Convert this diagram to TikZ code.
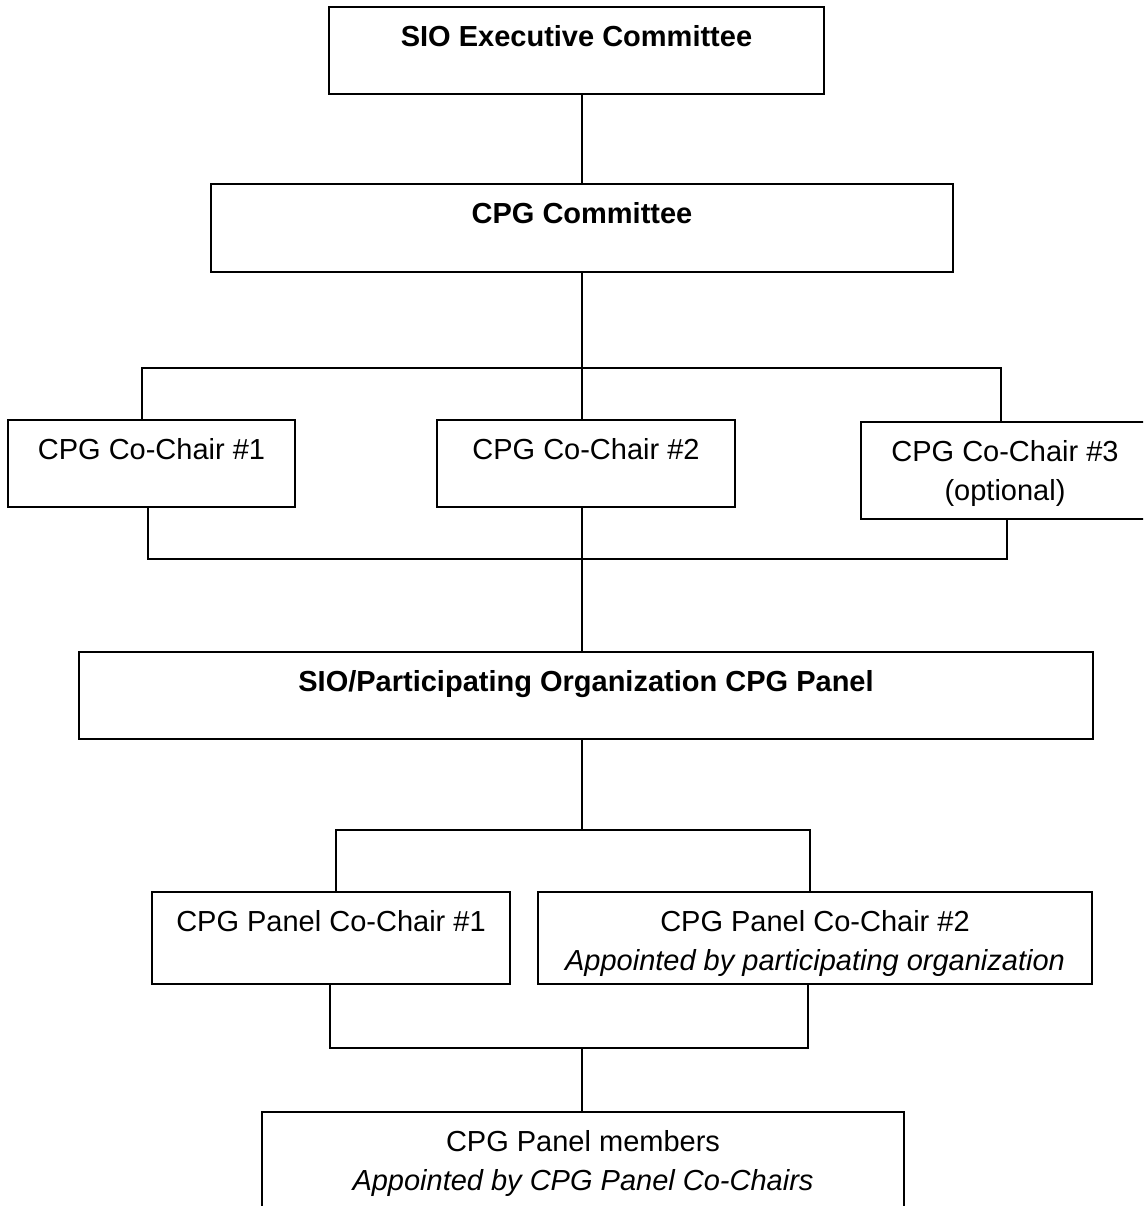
\documentclass[tikz,border=0pt]{standalone}
\usepackage{fontspec}
\setmainfont{Liberation Sans}
\usetikzlibrary{calc}

\begin{document}
\begin{tikzpicture}[x=1pt,y=-1pt,line width=1.4pt,
    box/.style={draw,rectangle,inner sep=0pt,outer sep=0pt},
    txt/.style={anchor=north,yshift=-18pt,inner sep=0pt,align=center,
      font=\fontsize{29}{39}\selectfont}]

      \useasboundingbox (0,0) rectangle (1143,1206);
      \clip (0,0) rectangle (1143,1206);

      % boxes
      \node[box,minimum width=495,minimum height=87,
        label={[txt,font=\fontsize{29}{39}\selectfont\bfseries]north:SIO Executive Committee}] (exec) at (576.5,50.5) {};
      \node[box,minimum width=742,minimum height=88,
        label={[txt,font=\fontsize{29}{39}\selectfont\bfseries]north:CPG Committee}] (cpg) at (582,228) {};
      \node[box,minimum width=287,minimum height=87,
        label={[txt]north:{CPG Co-Chair \#1}}] (ch1) at (151.5,463.5) {};
      \node[box,minimum width=298,minimum height=87,
        label={[txt]north:{CPG Co-Chair \#2}}] (ch2) at (586,463.5) {};
      \node[box,minimum width=288,minimum height=97,
        label={[txt]north:{CPG Co-Chair \#3\\(optional)}}] (ch3) at (1005,470.5) {};
      \node[box,minimum width=1014,minimum height=87,
        label={[txt,font=\fontsize{29}{39}\selectfont\bfseries]north:SIO/Participating Organization CPG Panel}] (panel) at (586,695.5) {};
      \node[box,minimum width=358,minimum height=92,
        label={[txt]north:{CPG Panel Co-Chair \#1}}] (pch1) at (331,938) {};
      \node[box,minimum width=554,minimum height=92,
        label={[txt]north:{CPG Panel Co-Chair \#2\\\itshape Appointed by participating organization}}] (pch2) at (815,938) {};
      \node[box,minimum width=642,minimum height=118,
        label={[txt]north:{CPG Panel members\\\itshape Appointed by CPG Panel Co-Chairs}}] (memb) at (583,1171) {};

      % junctions
      \coordinate (bus1) at (582,368);
      \coordinate (bus2) at (582,559);
      \coordinate (bus3) at (582,830);
      \coordinate (bus4) at (582,1048);

      % connectors
      \draw (cpg.north) -- (cpg.north |- exec.south);
      \draw (cpg.south) -- (cpg.south |- ch2.north);
      \draw ($(ch1.north)+(-9.5,0)$) |- (bus1) -| ($(ch3.north)+(-4,0)$);
      \draw ($(ch1.south)+(-3.5,0)$) |- (bus2) -| ($(ch3.south)+(2,0)$);
      \draw (ch2.south -| bus2) -- (panel.north -| bus2);
      \draw (panel.south -| bus3) -- (bus3);
      \draw ($(pch1.north)+(5,0)$) |- (bus3) -| ($(pch2.north)+(-5,0)$);
      \draw ($(pch1.south)+(-1,0)$) |- (bus4) -| ($(pch2.south)+(-7,0)$);
      \draw (bus4) -- (memb.north -| bus4);
    \end{tikzpicture}
\end{document}
